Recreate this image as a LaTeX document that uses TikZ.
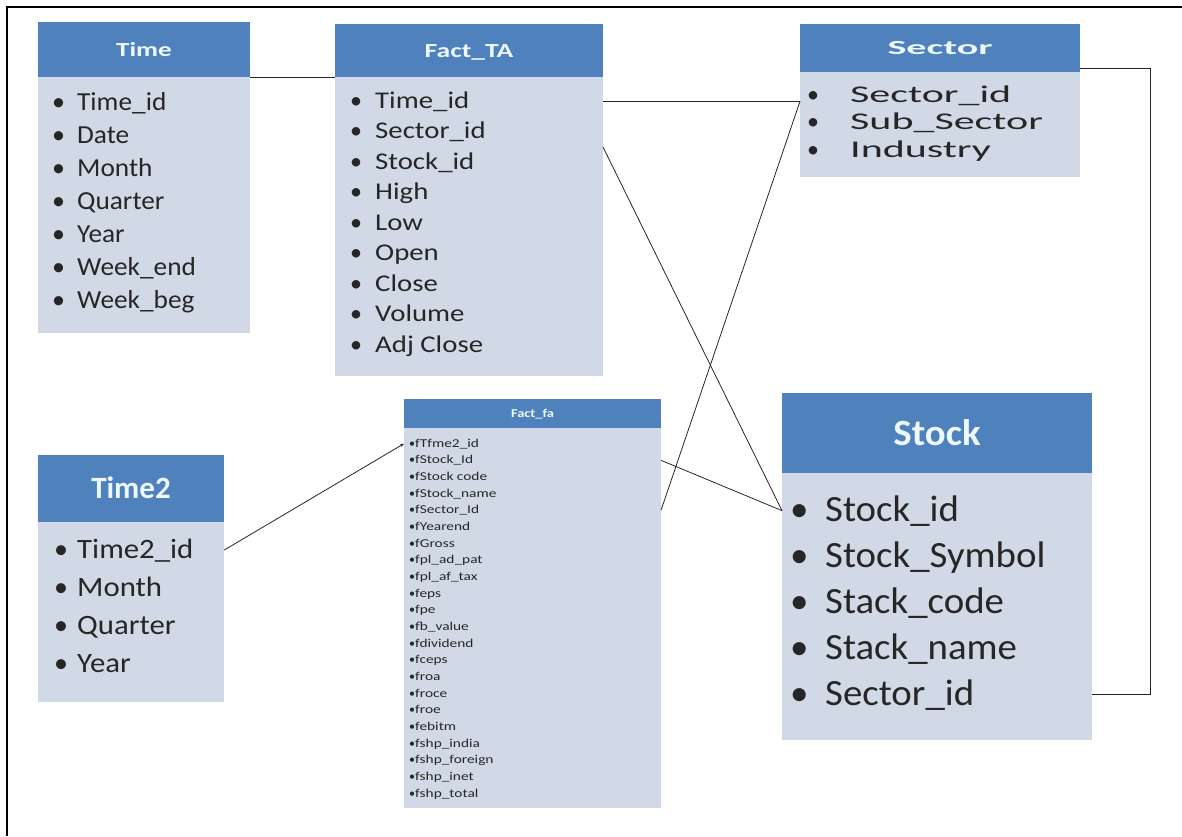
\documentclass[tikz,border=0pt]{standalone}
\usepackage{fontspec}
\setmainfont{Carlito}
\usepackage{graphicx}
\usepackage{tikz}
\usetikzlibrary{positioning,arrows.meta}

\definecolor{headblue}{RGB}{79,129,189}
\definecolor{bodyblue}{RGB}{209,217,231}
\definecolor{headtext}{RGB}{236,248,252}

\newcommand{\fsz}[1]{\fontsize{#1}{#1}\selectfont}
% bullet in a box of width #1, then the field name stretched by #2
\newcommand{\fld}[3]{\makebox[#1][l]{\textbullet}\scalebox{#2}[1]{#3}}

\tikzset{
  tabbody/.style={fill=bodyblue, inner sep=0pt, outer sep=0pt, anchor=north west},
  tabhead/.style={fill=headblue, text=headtext, inner sep=0pt, outer sep=0pt, anchor=north west, text depth=0pt},
  field/.style={anchor=base west, inner sep=0pt, text=black!85},
  link/.style={draw=black!85, line width=0.8pt},
}

\begin{document}
\begin{tikzpicture}[x=1pt, y=-1pt]
  \useasboundingbox (0,0) rectangle (1182,836);
  % frame, only top and left edges
  \draw[line width=2.4pt] (7,836) -- (7,7) -- (1182,7);

  % Time dimension
  \node[tabbody, minimum width=212pt, minimum height=311pt] (time) at (38,22) {};
  \node[tabhead, minimum width=212pt, minimum height=55pt, text height=13pt, font=\bfseries\fsz{20}] (time-h) at (38,22) {\scalebox{1.35}[1]{Time}};
  \foreach \t [count=\i] in {Time\_id, Date, Month, Quarter, Year, Week\_end, Week\_beg}
    \node[field, font=\fsz{26}] (time-\i) at (52, {110+33*(\i-1)}) {\fld{25pt}{1.05}{\t}};

  % Fact_TA
  \node[tabbody, minimum width=268pt, minimum height=352pt] (ta) at (335,24) {};
  \node[tabhead, minimum width=268pt, minimum height=53pt, text height=13pt, font=\bfseries\fsz{20}] (ta-h) at (335,24) {\scalebox{1.38}[1]{Fact\_TA}};
  \foreach \t [count=\i] in {Time\_id, Sector\_id, Stock\_id, High, Low, Open, Close, Volume, Adj Close}
    \node[field, font=\fsz{24}] (ta-\i) at (350, {108+30.5*(\i-1)}) {\fld{25pt}{1.2}{\t}};

  % Sector dimension
  \node[tabbody, minimum width=280pt, minimum height=153pt] (sec) at (800,24) {};
  \node[tabhead, minimum width=280pt, minimum height=48pt, text height=13pt, font=\bfseries\fsz{20}] (sec-h) at (800,24) {\scalebox{2.0}[1]{Sector}};
  \foreach \t [count=\i] in {Sector\_id, Sub\_Sector, Industry}
    \node[field, font=\fsz{24}] (sec-\i) at (807, {102+27.5*(\i-1)}) {\fld{43pt}{1.75}{\t}};

  % Time2 dimension
  \node[tabbody, minimum width=186pt, minimum height=247pt] (t2) at (38,455) {};
  \node[tabhead, minimum width=186pt, minimum height=67pt, text height=20pt, font=\bfseries\fsz{31}] (t2-h) at (38,455) {Time2};
  \foreach \t [count=\i] in {Time2\_id, Month, Quarter, Year}
    \node[field, font=\fsz{28}] (t2-\i) at (54, {558+38.3*(\i-1)}) {\fld{23pt}{1.1}{\t}};

  % Fact_fa
  \node[tabbody, minimum width=257pt, minimum height=409pt] (fa) at (404,399) {};
  \node[tabhead, minimum width=257pt, minimum height=29pt, text height=8pt, font=\bfseries\fsz{12}] (fa-h) at (404,399) {\scalebox{1.2}[1]{Fact\_fa}};
  \foreach \t [count=\i] in {fTfme2\_id, fStock\_Id, fStock code, fStock\_name, fSector\_Id, fYearend, fGross, fpl\_ad\_pat, fpl\_af\_tax, feps, fpe, fb\_value, fdividend, fceps, froa, froce, froe, febitm, fshp\_india, fshp\_foreign, fshp\_inet, fshp\_total}
    \node[field, font=\fsz{12}] (fa-\i) at (409, {447+16.67*(\i-1)}) {\fld{6pt}{1.28}{\t}};

  % Stock dimension
  \node[tabbody, minimum width=310pt, minimum height=347pt] (stk) at (782,393) {};
  \node[tabhead, minimum width=310pt, minimum height=80pt, text height=24pt, font=\bfseries\fsz{37}] (stk-h) at (782,393) {\scalebox{1.05}[1]{Stock}};
  \foreach \t [count=\i] in {Stock\_id, Stock\_Symbol, Stack\_code, Stack\_name, Sector\_id}
    \node[field, font=\fsz{37}] (stk-\i) at (790, {521+46*(\i-1)}) {\fld{35pt}{1.05}{\t}};

  % links between the tables
  \coordinate (ta-out) at (603,147);
  \draw[link] (time-h.south east) -- (ta-h.south west);
  \draw[link] (ta.east |- ta-1) -- (sec.west |- ta-1);
  \draw[link] (ta-out) -- (stk.west |- stk-1);
  \draw[link] (fa.east |- fa-2) -- (stk.west |- stk-1);
  \draw[link] (fa.east |- fa-5) -- (sec.west |- ta-1);
  \draw[link, -{Stealth[length=4pt, width=3pt]}] (t2.east |- t2-1) -- (fa.west |- fa-1);
  \draw[link] (stk.east |- stk-5) -- ++(58,0) |- ([yshift=4pt]sec-h.south east);
\end{tikzpicture}
\end{document}
